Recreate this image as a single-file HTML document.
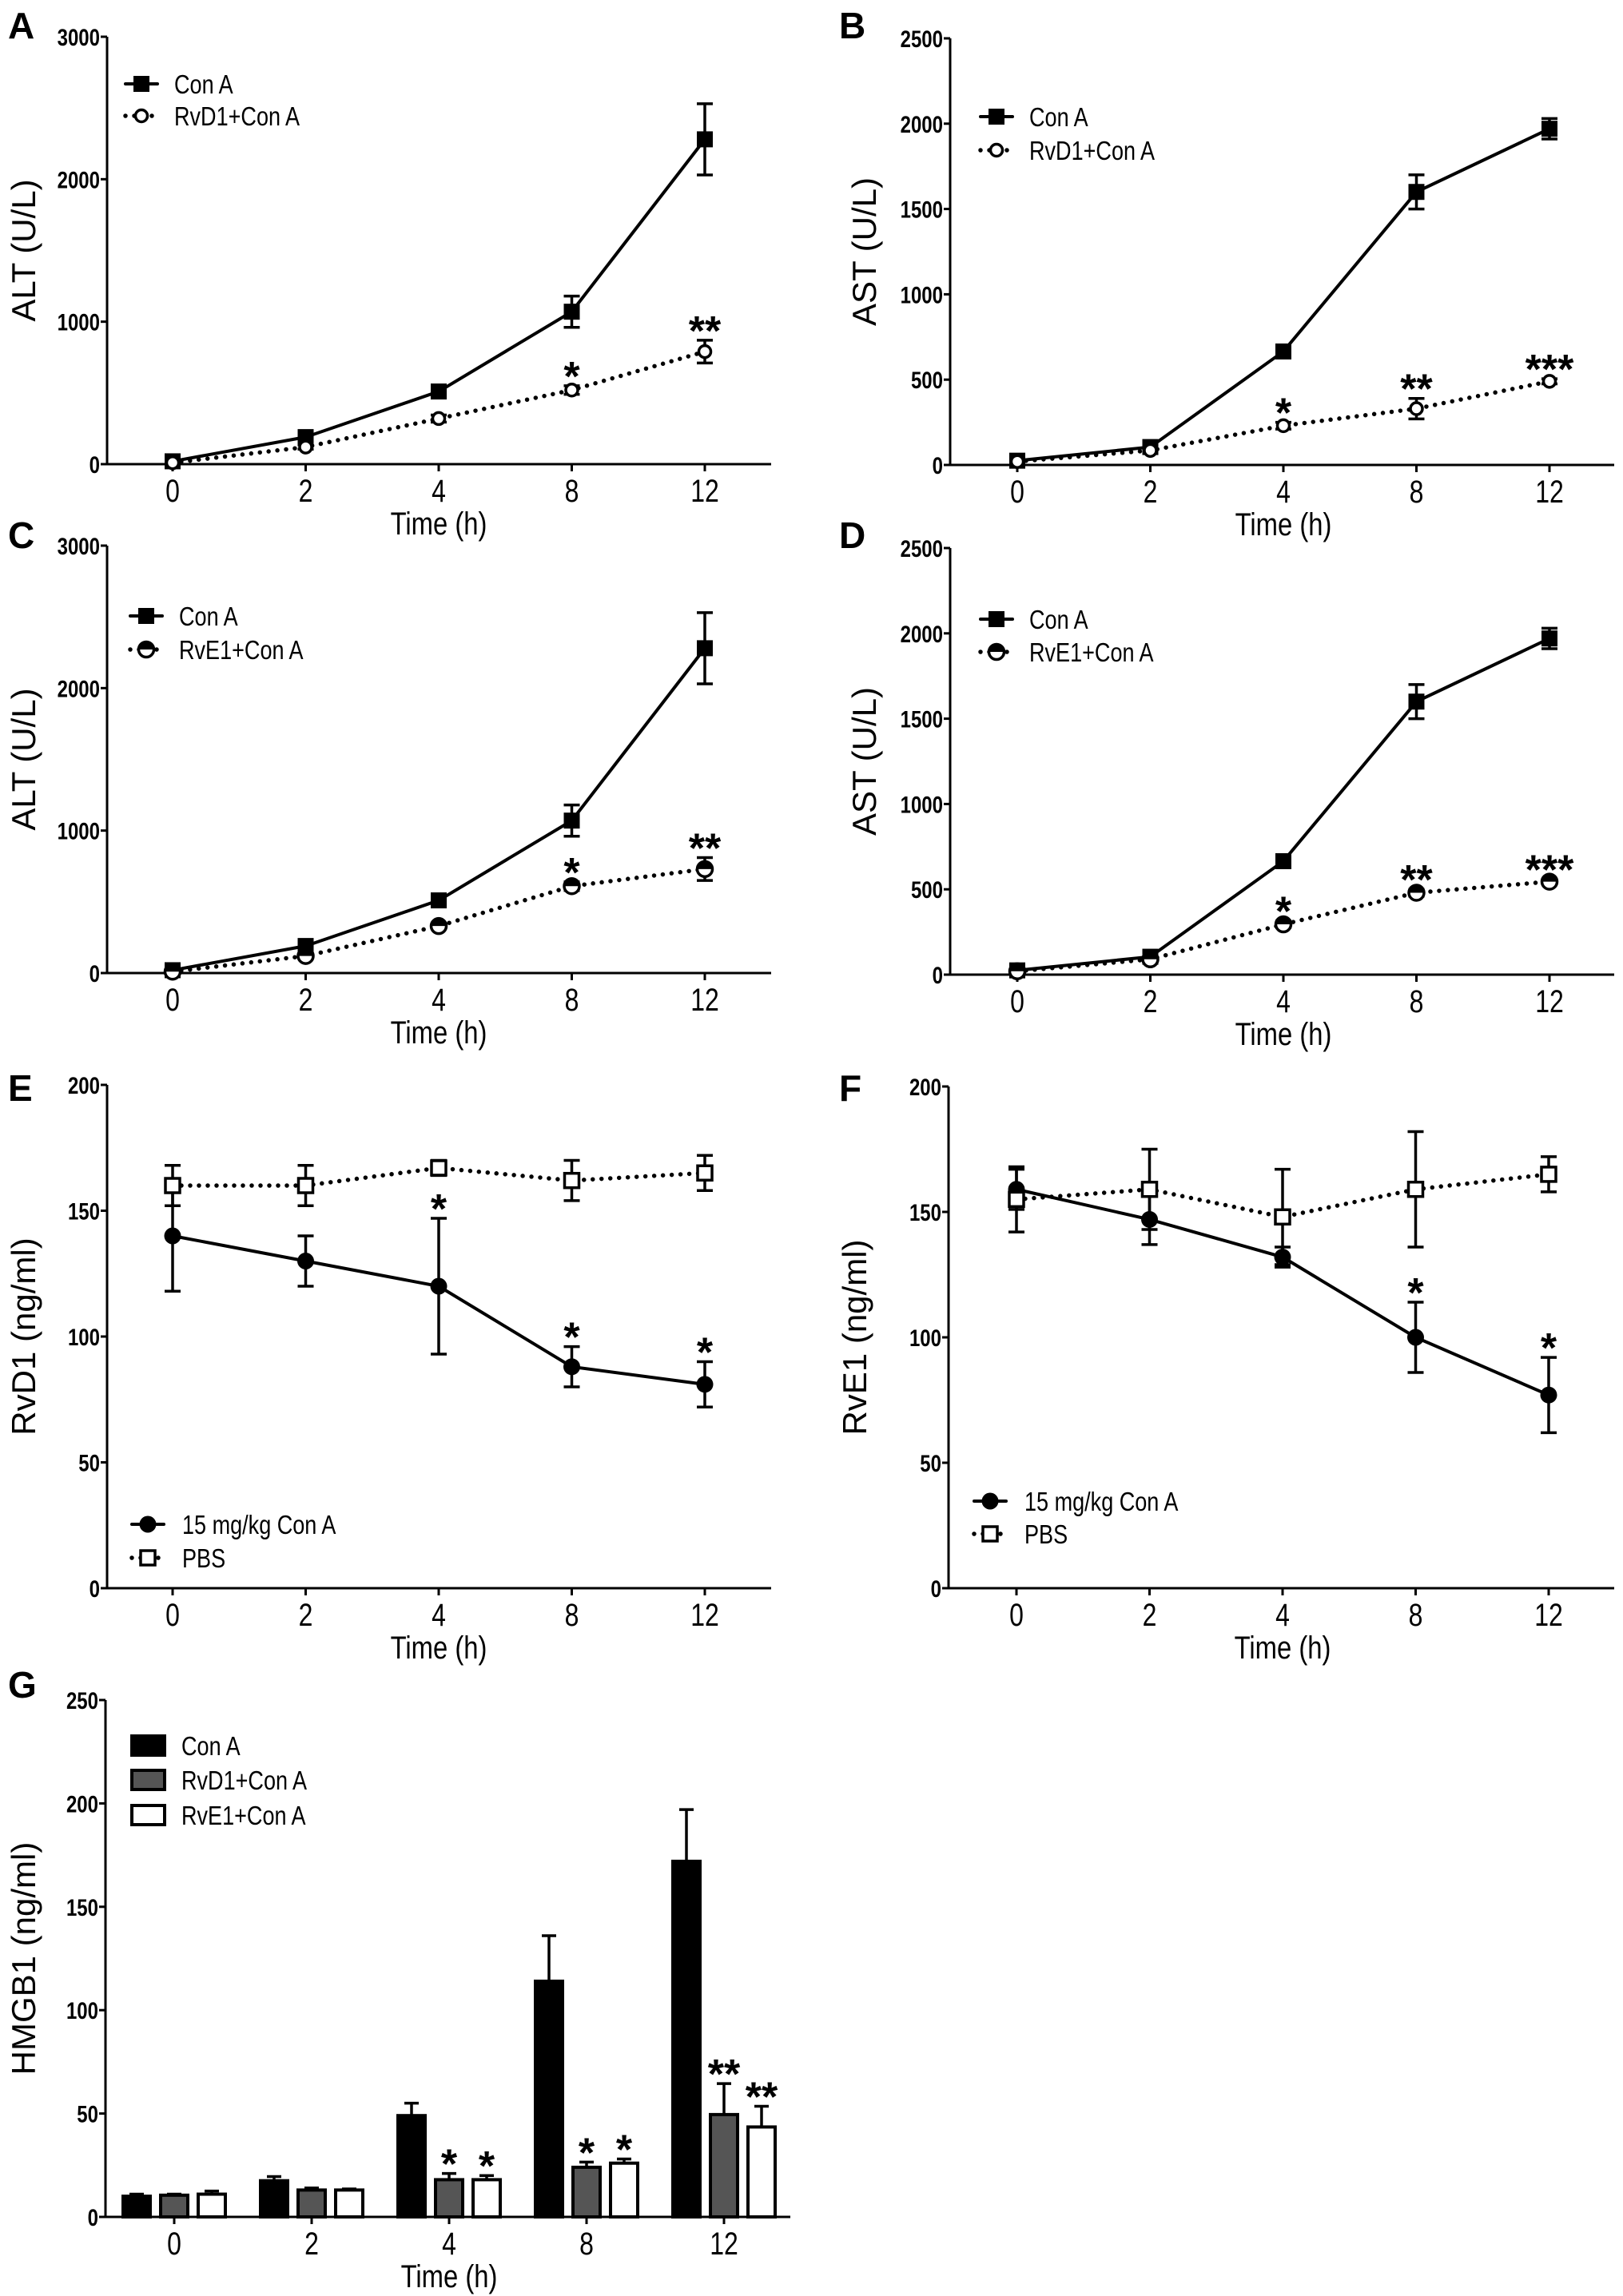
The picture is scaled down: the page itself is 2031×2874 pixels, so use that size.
<!DOCTYPE html>
<html><head><meta charset="utf-8"><style>
html,body{margin:0;padding:0;background:#fff;}
svg{display:block;}
.tk{font-family:"Liberation Sans",sans-serif;font-weight:bold;font-size:30px;}
.xt{font-family:"Liberation Sans",sans-serif;font-size:40px;}
.tt{font-family:"Liberation Sans",sans-serif;font-size:40px;}
.yt{font-family:"Liberation Sans",sans-serif;font-size:42px;}
.lg{font-family:"Liberation Sans",sans-serif;font-size:33px;}
.lt{font-family:"Liberation Sans",sans-serif;font-weight:bold;font-size:46px;}
.st{font-family:"Liberation Sans",sans-serif;font-weight:bold;font-size:52px;}
</style></head><body>
<svg id="fig" width="2031" height="2874" viewBox="0 0 2031 2874" xmlns="http://www.w3.org/2000/svg"></svg>
<script>
const xCats = ["0","2","4","8","12"];
// Panel A
const aConA = [20,190,510,1070,2280];
const aConAErr = [15,20,30,110,250];
const aRvD1 = [10,120,320,520,790];
const aRvD1Err = [5,15,25,30,80];
const aStars = ["","","","*","**"];
// Panel B
const bConA = [25,105,665,1600,1970];
const bConAErr = [20,20,25,100,60];
const bRvD1 = [20,85,230,330,490];
const bRvD1Err = [10,10,20,60,15];
const bStars = ["","","*","**","***"];
// Panel C
const cConA = [20,190,510,1070,2280];
const cConAErr = [15,20,30,110,250];
const cRvE1 = [10,120,330,610,730];
const cRvE1Err = [5,15,20,30,80];
const cStars = ["","","","*","**"];
// Panel D
const dConA = [25,105,665,1600,1970];
const dConAErr = [20,20,25,100,60];
const dRvE1 = [20,90,295,480,545];
const dRvE1Err = [10,10,20,20,15];
const dStars = ["","","*","**","***"];
// Panel E
const eConA = [140,130,120,88,81];
const eConAErr = [22,10,27,8,9];
const ePBS = [160,160,167,162,165];
const ePBSErr = [8,8,3,8,7];
const eStars = ["","","*","*","*"];
// Panel F
const fConA = [159,147,132,100,77];
const fConAErr = [8,10,4,14,15];
const fPBS = [155,159,148,159,165];
const fPBSErr = [13,16,19,23,7];
const fStars = ["","","","*","*"];
// Panel G
const gConA = [10,17.5,49,114,172];
const gConAErr = [1,2,6,22,25];
const gRvD1 = [10.5,13,18,24,49.5];
const gRvD1Err = [0.5,1,3,2.5,15];
const gRvE1 = [11,13,18,26,43.5];
const gRvE1Err = [1.5,0.5,2,2,10];
const gStarsD = ["","","*","*","**"];
const gStarsE = ["","","*","*","**"];
const yTicksA = [0,1000,2000,3000];
const yTicksB = [0,500,1000,1500,2000,2500];
const yTicksE = [0,50,100,150,200];
const yTicksG = [0,50,100,150,200,250];

const NS="http://www.w3.org/2000/svg";
const svg=document.getElementById('fig');
function mk(tag,attrs,parent,text){const e=document.createElementNS(NS,tag);for(const k in attrs)e.setAttribute(k,attrs[k]);if(text!==undefined)e.textContent=text;(parent||svg).appendChild(e);return e;}
function ntext(parent,x,y,anchor,cls,str,sx){
  return mk('text',{x:0,y:0,'text-anchor':anchor,class:cls,transform:`translate(${x} ${y}) scale(${sx||0.8} 1)`},parent,str);
}

function axes(g,P,yTicks,yTitle,letter,lx,ly){
  const yS=v=>P.y0-(v/P.max)*(P.y0-P.ytop);
  const xS=i=>P.x0+P.off+i*P.step;
  let e;
  e=mk('line',{x1:P.x0,y1:P.ytop,x2:P.x0,y2:P.y0+1.5,stroke:'#000','stroke-width':3},g);
  
  
  e=mk('line',{x1:P.x0-1.5,y1:P.y0,x2:P.xend,y2:P.y0,stroke:'#000','stroke-width':3},g);
  
  
  yTicks.forEach(v=>{
    mk('line',{x1:P.x0-8,y1:yS(v),x2:P.x0,y2:yS(v),stroke:'#000','stroke-width':3},g);
    e=ntext(g,P.x0-9,yS(v)+11,'end','tk',String(v),0.8);
    
    
  });
  xCats.forEach((c,i)=>{
    mk('line',{x1:xS(i),y1:P.y0,x2:xS(i),y2:P.y0+9,stroke:'#000','stroke-width':3},g);
    e=ntext(g,xS(i),P.y0+47,'middle','xt',c,0.8);
    
    
  });
  const mx=P.x0+P.off+2*P.step;
  e=ntext(g,mx,P.y0+88,'middle','tt','Time (h)',0.82);
  
  
  const my=(P.ytop+P.y0)/2;
  e=mk('text',{x:P.ytx,y:my,'text-anchor':'middle',class:'yt',transform:`rotate(-90 ${P.ytx} ${my}) translate(0 14)`},g,yTitle);
  
  
  e=mk('text',{x:lx,y:ly,class:'lt'},g,letter);
  
  
  return {xS,yS};
}

function marker(g,type,x,y){
  if(type==='sq') return mk('rect',{x:x-10,y:y-10,width:20,height:20,fill:'#000'},g);
  if(type==='osq') return mk('rect',{x:x-9,y:y-9,width:18,height:18,fill:'#fff',stroke:'#000','stroke-width':3.5},g);
  if(type==='dot') return mk('circle',{cx:x,cy:y,r:10.5,fill:'#000'},g);
  if(type==='oc') return mk('circle',{cx:x,cy:y,r:7.5,fill:'#fff',stroke:'#000','stroke-width':3.5},g);
  if(type==='hc'){const gg=mk('g',{},g);mk('circle',{cx:x,cy:y,r:9.5,fill:'#fff',stroke:'#000','stroke-width':3.5},gg);mk('path',{d:`M${x-9.5} ${y} A9.5 9.5 0 0 1 ${x+9.5} ${y} Z`,fill:'#000'},gg);return gg;}
}

function series(g,s,vals,errs,dotted,mtype,name){
  const pts=vals.map((v,i)=>s.xS(i)+','+s.yS(v)).join(' ');
  let e=mk('polyline',{points:pts,fill:'none',stroke:'#000','stroke-width':dotted?5.5:4,'stroke-linecap':'round','stroke-dasharray':dotted?'0 11':'none'},g);
  
  
  vals.forEach((v,i)=>{
    const x=s.xS(i),t=s.yS(v+errs[i]),b=s.yS(Math.max(0,v-errs[i]));
    e=mk('path',{d:`M${x} ${t}V${b}M${x-10} ${t}H${x+10}M${x-10} ${b}H${x+10}`,stroke:'#000','stroke-width':3.5,fill:'none'},g);
    
    
  });
  vals.forEach((v,i)=>{
    e=marker(g,mtype,s.xS(i),s.yS(v));
    
    
  });
}

function stars(g,s,vals,errs,st){
  st.forEach((t,i)=>{ if(!t)return;
    const cy=s.yS(vals[i]+errs[i])-24;
    const e=mk('text',{x:s.xS(i),y:cy+30,'text-anchor':'middle',class:'st'},g,t);
    
    
  });
}

function legend(g,entries){
  entries.forEach(en=>{
    const gg=mk('g',{},g);
    
    
    mk('line',{x1:en.mx-20,y1:en.y,x2:en.mx+20,y2:en.y,stroke:'#000','stroke-width':en.dotted?5.5:4,'stroke-linecap':'round','stroke-dasharray':en.dotted?'0 11':'none'},gg);
    marker(gg,en.m,en.mx,en.y);
    ntext(gg,en.tx,en.y+12,'start','lg',en.label,0.82);
  });
}

function linePanel(name,P,yTicks,yTitle,letter,lx,ly,s1,e1,s2,e2,m2,st,leg,starsOn){
  const g=mk('g',{});
  
  
  const s=axes(g,P,yTicks,yTitle,letter,lx,ly);
  series(g,s,s1,e1,false,P.m1,'series-1');
  series(g,s,s2,e2,true,m2,'series-2');
  stars(g,s,starsOn==='1'?s1:s2,starsOn==='1'?e1:e2,st);
  legend(g,leg);
}

const PA={x0:134,xend:965,ytop:46,y0:581,max:3000,off:82,step:166.5,ytx:30,m1:'sq'};
const PB={x0:1189,xend:2020,ytop:48,y0:582,max:2500,off:84,step:166.5,ytx:1082,m1:'sq'};
const PC={x0:134,xend:965,ytop:683,y0:1218,max:3000,off:82,step:166.5,ytx:30,m1:'sq'};
const PD={x0:1189,xend:2020,ytop:686,y0:1220,max:2500,off:84,step:166.5,ytx:1082,m1:'sq'};
const PE={x0:134,xend:965,ytop:1358,y0:1988,max:200,off:82,step:166.5,ytx:30,m1:'dot'};
const PF={x0:1187,xend:2020,ytop:1360,y0:1988,max:200,off:85,step:166.5,ytx:1070,m1:'dot'};

linePanel('panel-a-alt-rvd1',PA,yTicksA,'ALT (U/L)','A',10,48,aConA,aConAErr,aRvD1,aRvD1Err,'oc',aStars,
  [{mx:177,y:105,tx:218,label:'Con A',m:'sq'},{mx:177,y:145,tx:218,label:'RvD1+Con A',m:'oc',dotted:true}],'2');
linePanel('panel-b-ast-rvd1',PB,yTicksB,'AST (U/L)','B',1050,48,bConA,bConAErr,bRvD1,bRvD1Err,'oc',bStars,
  [{mx:1247,y:146,tx:1288,label:'Con A',m:'sq'},{mx:1247,y:188,tx:1288,label:'RvD1+Con A',m:'oc',dotted:true}],'2');
linePanel('panel-c-alt-rve1',PC,yTicksA,'ALT (U/L)','C',10,686,cConA,cConAErr,cRvE1,cRvE1Err,'hc',cStars,
  [{mx:183,y:771,tx:224,label:'Con A',m:'sq'},{mx:183,y:813,tx:224,label:'RvE1+Con A',m:'hc',dotted:true}],'2');
linePanel('panel-d-ast-rve1',PD,yTicksB,'AST (U/L)','D',1050,686,dConA,dConAErr,dRvE1,dRvE1Err,'hc',dStars,
  [{mx:1247,y:775,tx:1288,label:'Con A',m:'sq'},{mx:1247,y:816,tx:1288,label:'RvE1+Con A',m:'hc',dotted:true}],'2');
linePanel('panel-e-rvd1-level',PE,yTicksE,'RvD1  (ng/ml)','E',10,1378,eConA,eConAErr,ePBS,ePBSErr,'osq',eStars,
  [{mx:185,y:1908,tx:228,label:'15 mg/kg Con A',m:'dot'},{mx:185,y:1950,tx:228,label:'PBS',m:'osq',dotted:true}],'1');
linePanel('panel-f-rve1-level',PF,yTicksE,'RvE1  (ng/ml)','F',1050,1378,fConA,fConAErr,fPBS,fPBSErr,'osq',fStars,
  [{mx:1239,y:1879,tx:1282,label:'15 mg/kg Con A',m:'dot'},{mx:1239,y:1920,tx:1282,label:'PBS',m:'osq',dotted:true}],'1');

// Panel G bar chart
(function(){
  const P={x0:132,xend:989,ytop:2128,y0:2775,max:250,off:86,step:172,ytx:30};
  const g=mk('g',{});
  
  
  const s=axes(g,P,yTicksG,'HMGB1  (ng/ml)','G',10,2125);
  const groups=[[gConA,gConAErr,'#000','con-a'],[gRvD1,gRvD1Err,'#555','rvd1'],[gRvE1,gRvE1Err,'#fff','rve1']];
  const bw=34,pitch=47;
  groups.forEach((gr,k)=>{
    gr[0].forEach((v,i)=>{
      const cx=s.xS(i)+(k-1)*pitch;
      const top=s.yS(v+gr[1][i]);
      let e=mk('path',{d:`M${cx} ${s.yS(v)}V${top}M${cx-9} ${top}H${cx+9}`,stroke:'#000','stroke-width':3.5,fill:'none'},g);
      
      
      e=mk('rect',{x:cx-bw/2,y:s.yS(v),width:bw,height:P.y0-s.yS(v),fill:gr[2],stroke:'#000','stroke-width':4},g);
      
      
    });
  });
  [[gRvD1,gRvD1Err,gStarsD,0],[gRvE1,gRvE1Err,gStarsE,1]].forEach(a=>{
    a[2].forEach((t,i)=>{ if(!t)return;
      const cx=s.xS(i)+a[3]*pitch;
      const cy=s.yS(a[0][i]+a[1][i])-24;
      const e=mk('text',{x:cx,y:cy+30,'text-anchor':'middle',class:'st'},g,t);
      
      
    });
  });
  const leg=[['Con A','#000',2185],['RvD1+Con A','#555',2228],['RvE1+Con A','#fff',2272]];
  leg.forEach(l=>{
    const gg=mk('g',{},g);
    
    
    mk('rect',{x:165,y:l[2]-12,width:41,height:24,fill:l[1],stroke:'#000','stroke-width':4},gg);
    ntext(gg,227,l[2]+12,'start','lg',l[0],0.82);
  });
})();
</script>
</body></html>
